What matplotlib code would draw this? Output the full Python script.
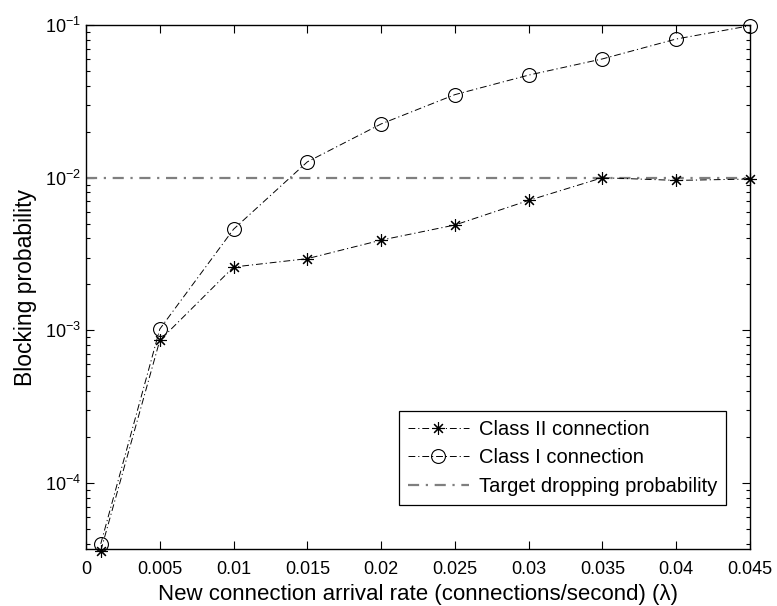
import matplotlib
matplotlib.use("Agg")
import matplotlib.pyplot as plt
from matplotlib.ticker import LogLocator, NullFormatter

plt.rcParams['font.family'] = ['Liberation Sans', 'DejaVu Sans']
plt.rcParams['mathtext.fontset'] = 'custom'
plt.rcParams['mathtext.rm'] = 'Liberation Sans'
plt.rcParams['mathtext.it'] = 'Liberation Sans:italic'

rate = [0.001, 0.005, 0.01, 0.015, 0.02, 0.025, 0.03, 0.035, 0.04, 0.045]
class2 = [3.6e-5, 8.6e-4, 2.6e-3, 2.95e-3, 3.9e-3, 4.9e-3, 7.1e-3, 1.0e-2, 9.6e-3, 9.8e-3]
class1 = [4.0e-5, 1.02e-3, 4.6e-3, 1.27e-2, 2.25e-2, 3.5e-2, 4.7e-2, 6.0e-2, 8.1e-2, 0.099]
target_x = [0.0, 0.045]
target_y = [0.01, 0.01]

xticks = [0, 0.005, 0.01, 0.015, 0.02, 0.025, 0.03, 0.035, 0.04, 0.045]
xticklabels = ['0', '0.005', '0.01', '0.015', '0.02', '0.025', '0.03', '0.035', '0.04', '0.045']

fig = plt.figure(figsize=(7.77, 6.06), dpi=100)
ax = fig.add_axes([0.1107, 0.0941, 0.8546, 0.8646])

dashdot = (0, (7, 3, 1.2, 3))
ax.plot(rate, class2, color='black', linestyle=dashdot, linewidth=0.7,
        marker=(8, 2, 0), markersize=9, markeredgewidth=0.8,
        label='Class II connection', clip_on=False, zorder=3)
ax.plot(rate, class1, color='black', linestyle=dashdot, linewidth=0.7,
        marker='o', markersize=10, markerfacecolor='none', markeredgewidth=0.8,
        label='Class I connection', clip_on=False, zorder=3)
ax.plot(target_x, target_y, color='#7f7f7f', linestyle=(0, (5, 3, 1, 3)), linewidth=1.6,
        label='Target dropping probability', zorder=2)

ax.set_yscale('log')
ax.set_xlim(0, 0.045)
ax.set_ylim(3.7e-5, 0.1)
ax.set_xticks(xticks)
ax.set_xticklabels(xticklabels)
ax.yaxis.set_major_locator(LogLocator(base=10, numticks=10))
ax.yaxis.set_minor_locator(LogLocator(base=10, subs=range(2, 10), numticks=10))
ax.yaxis.set_minor_formatter(NullFormatter())

ax.tick_params(which='both', direction='in', top=True, right=True, labelsize=13, width=0.8, colors='black')
ax.tick_params(which='major', length=6)
ax.tick_params(which='minor', length=3)
ax.tick_params(axis='x', pad=9)
for s in ax.spines.values():
    s.set_linewidth(1.0)

ax.set_xlabel('New connection arrival rate (connections/second) (\u03bb)', fontsize=16, labelpad=4)
ax.set_ylabel('Blocking probability', fontsize=16.5, labelpad=6)

leg = ax.legend(loc='lower right', bbox_to_anchor=(0.964, 0.084), fontsize=14.5,
                frameon=True, fancybox=False, edgecolor='black', framealpha=1,
                handlelength=3.0, handletextpad=0.5, borderpad=0.45, labelspacing=0.48,
                borderaxespad=0)
leg.get_frame().set_linewidth(0.9)

fig.savefig('out.png', dpi=100)
